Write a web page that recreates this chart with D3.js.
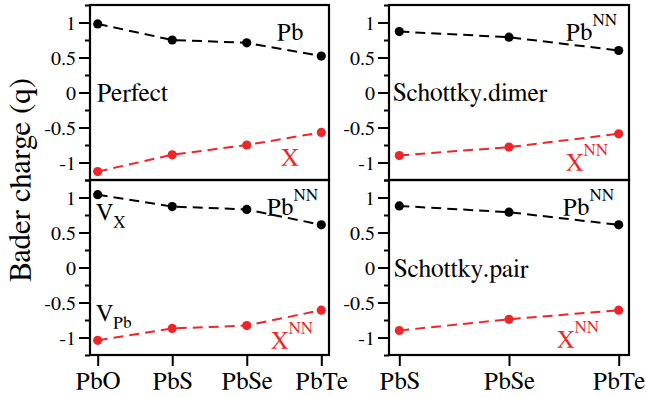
<!DOCTYPE html>
<html><head><meta charset="utf-8">
<script src="https://cdn.jsdelivr.net/npm/d3@7/dist/d3.min.js"></script>
<style>
html,body{margin:0;padding:0;background:#fff;}
svg{display:block;}
</style></head>
<body>
<svg id="chart" width="646" height="398"></svg>
<script>
// ---- data ----
const catsLeft = ["PbO", "PbS", "PbSe", "PbTe"];
const catsRight = ["PbS", "PbSe", "PbTe"];
const perfectPb = [0.98, 0.75, 0.71, 0.52];
const perfectX = [-1.13, -0.89, -0.75, -0.57];
const dimerPb = [0.87, 0.79, 0.60];
const dimerX = [-0.90, -0.78, -0.59];
const vacPb = [1.04, 0.87, 0.83, 0.61];
const vacX = [-1.04, -0.87, -0.83, -0.61];
const pairPb = [0.88, 0.79, 0.61];
const pairX = [-0.90, -0.74, -0.61];
const yMajorTicks = [-1, -0.5, 0, 0.5, 1];
const yMinorTicks = [-1.25, -0.75, -0.25, 0.25, 0.75, 1.25];
const yLabel = "Bader charge (q)";

const FONT = "'Nimbus Roman', 'FreeSerif', 'Liberation Serif'";
const svg = d3.select("#chart").attr("font-family", FONT);
const RED = "#ec2629";

const panels = [
  {x0: 90, x1: 329, y0: 5, y1: 180, cats: catsLeft, pb: perfectPb, xx: perfectX, pad: 7.7, xlabels: false},
  {x0: 389, x1: 629, y0: 5, y1: 180, cats: catsRight, pb: dimerPb, xx: dimerX, pad: 10.3, xlabels: false},
  {x0: 90, x1: 329, y0: 180, y1: 355, cats: catsLeft, pb: vacPb, xx: vacX, pad: 7.7, xlabels: true},
  {x0: 389, x1: 629, y0: 180, y1: 355, cats: catsRight, pb: pairPb, xx: pairX, pad: 10.3, xlabels: true}
];

panels.forEach((p, i) => {
  const x = d3.scalePoint().domain(p.cats).range([p.x0 + p.pad, p.x1 - p.pad]);
  const y = d3.scaleLinear().domain([-1.25, 1.25]).range([p.y1, p.y0]);
  const g = svg.append("g");

  const ya = g.append("g").attr("transform", `translate(${p.x0},0)`)
    .call(d3.axisLeft(y).tickValues(yMajorTicks).tickSize(11).tickPadding(3)
      .tickFormat(d => d === 0 ? "0" : String(d)));
  ya.attr("font-family", FONT);
  ya.select(".domain").remove();
  ya.selectAll("line").attr("stroke", "#000").attr("stroke-width", 2);
  ya.selectAll("text").attr("font-size", 20).attr("fill", "#000").attr("dy", "0.34em");
  const ym = g.append("g").attr("transform", `translate(${p.x0},0)`)
    .call(d3.axisLeft(y).tickValues(yMinorTicks).tickSize(5).tickFormat(""));
  ym.select(".domain").remove();
  ym.selectAll("line").attr("stroke", "#000").attr("stroke-width", 2);

  if (p.xlabels) {
    const xa = g.append("g").attr("transform", `translate(0,${p.y1})`)
      .call(d3.axisBottom(x).tickSize(11).tickPadding(5));
    xa.attr("font-family", FONT);
    xa.select(".domain").remove();
    xa.selectAll("line").attr("stroke", "#000").attr("stroke-width", 2);
    xa.selectAll("text").attr("font-size", 25).attr("fill", "#000");
  }

  const line = d3.line().x((d, j) => x(p.cats[j])).y(d => y(d));
  [[p.pb, "#000"], [p.xx, RED]].forEach(([vals, col]) => {
    g.append("path").datum(vals).attr("d", line).attr("fill", "none")
      .attr("stroke", col).attr("stroke-width", 2).attr("stroke-dasharray", "10,6");
    g.selectAll(null).data(vals).enter().append("circle")
      .attr("cx", (d, j) => x(p.cats[j])).attr("cy", d => y(d)).attr("r", 4.6).attr("fill", col);
  });

  g.append("rect").attr("x", p.x0).attr("y", p.y0).attr("width", p.x1 - p.x0).attr("height", p.y1 - p.y0)
    .attr("fill", "none").attr("stroke", "#000").attr("stroke-width", 2.2);
});

function txt(t, xp, yp, size, col) {
  return svg.append("text").attr("x", xp).attr("y", yp).attr("font-size", size).attr("fill", col || "#000").text(t);
}
function supLabel(base, sup, xp, yp, col, sub) {
  const t = svg.append("text").attr("x", xp).attr("y", yp).attr("fill", col).attr("font-size", 24.5);
  t.append("tspan").text(base);
  t.append("tspan").attr("font-size", 17).attr("dy", sub ? 7 : -15).text(sup);
}
txt("Perfect", 97, 101, 25.5);
txt("Pb", 277, 40, 24.5);
txt("X", 281, 165, 25, RED);
txt("Schottky.dimer", 393, 101, 25.5);
supLabel("Pb", "NN", 566, 40, "#000");
supLabel("X", "NN", 566, 170, RED);
supLabel("V", "X", 96, 220, "#000", true);
supLabel("V", "Pb", 96, 321, "#000", true);
supLabel("Pb", "NN", 267, 215, "#000");
supLabel("X", "NN", 271, 348, RED);
txt("Schottky.pair", 394, 277, 25.5);
supLabel("Pb", "NN", 563, 215, "#000");
supLabel("X", "NN", 557, 347, RED);

svg.append("text").attr("transform", "translate(30,180) rotate(-90)").attr("text-anchor", "middle")
  .attr("font-size", 31).attr("fill", "#000").text(yLabel);
</script>
</body></html>
